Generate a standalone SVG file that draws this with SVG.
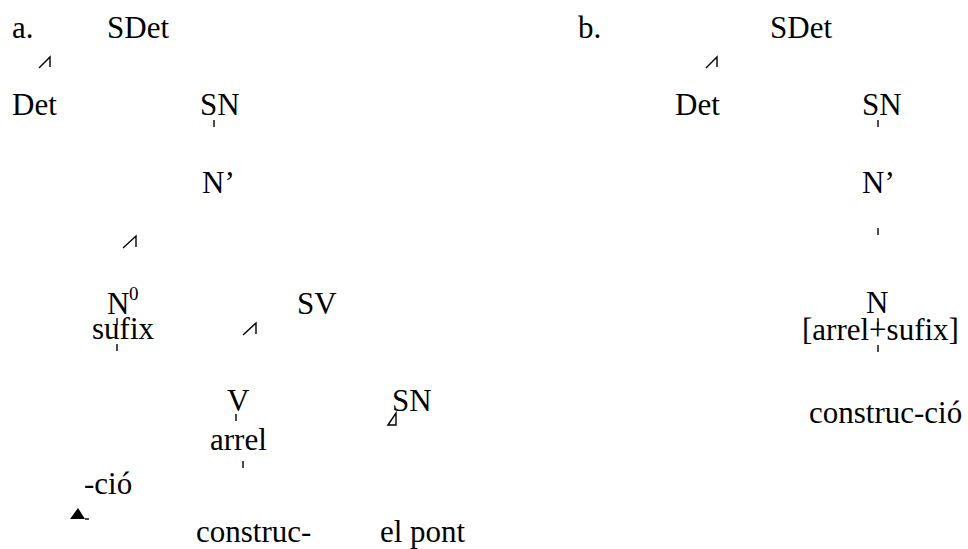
<svg xmlns="http://www.w3.org/2000/svg" width="968" height="549" viewBox="0 0 968 549">
  <style>
    text { font-family: "Liberation Serif", "Times New Roman", "DejaVu Serif", serif; font-size: 31px; fill: #000; }
    .sup { font-size: 19px; }
    .ln { stroke: #000; stroke-width: 1.4; fill: none; }
  </style>
  <rect width="968" height="549" fill="#fff"/>

  <!-- tree a -->
  <g id="a-label"><text x="12" y="38">a.</text></g>
  <g id="a-sdet"><text x="107" y="38">SDet</text></g>
  <g id="a-det"><text x="12" y="115">Det</text></g>
  <g id="a-sn"><text x="200" y="115">SN</text></g>
  <g id="a-nbar"><text x="202" y="193">N’</text></g>
  <g id="a-n0"><text x="107" y="314">N</text><text class="sup" x="129" y="300">0</text></g>
  <g id="a-sufix"><text x="92" y="339">sufix</text></g>
  <g id="a-sv"><text x="297" y="314">SV</text></g>
  <g id="a-v"><text x="227" y="411">V</text></g>
  <g id="a-sn2"><text x="392" y="411">SN</text></g>
  <g id="a-arrel"><text x="210" y="450">arrel</text></g>
  <g id="a-cio"><text x="84" y="494">-ció</text></g>
  <g id="a-construc"><text x="196" y="542">construc-</text></g>
  <g id="a-pont"><text x="380" y="542">el pont</text></g>

  <!-- tree b -->
  <g id="b-label"><text x="578" y="38">b.</text></g>
  <g id="b-sdet"><text x="770" y="38">SDet</text></g>
  <g id="b-det"><text x="675" y="115">Det</text></g>
  <g id="b-sn"><text x="862" y="115">SN</text></g>
  <g id="b-nbar"><text x="862" y="193">N’</text></g>
  <g id="b-n"><text x="866" y="313">N</text></g>
  <g id="b-root"><text x="802" y="340">[arrel+sufix]</text></g>
  <g id="b-construccio"><text x="809" y="423">construc-ció</text></g>

  <!-- connectors (branch stubs) -->
  <g id="connectors">
    <path class="ln" d="M39 68 L50 57 L50 67"/>
    <path class="ln" d="M214 120 V127"/>
    <path class="ln" d="M123 248 L136 236 L136 247"/>
    <path class="ln" d="M117 318 V325"/>
    <path class="ln" d="M117 344 V351"/>
    <path class="ln" d="M243 335 L256 323 L256 334"/>
    <path class="ln" d="M236 414 V421"/>
    <path class="ln" d="M388 425 L396 413 L396 425 Z"/>
    <path class="ln" d="M243 461 V468"/>
    <path d="M70 519 L78 508 L85 519 Z" fill="#000"/>
    <path class="ln" d="M85 519 H89"/>

    <path class="ln" d="M706 68 L717 57 L717 67"/>
    <path class="ln" d="M878 120 V127"/>
    <path class="ln" d="M878 228 V235"/>
    <path class="ln" d="M878 318 V326"/>
    <path class="ln" d="M878 345 V352"/>
  </g>
</svg>
